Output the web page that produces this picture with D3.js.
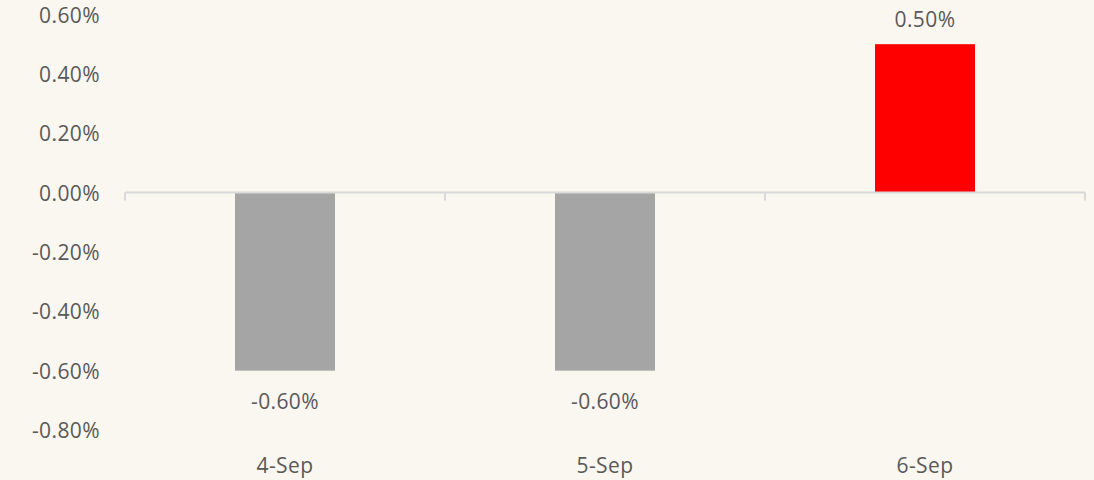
<!DOCTYPE html>
<html><head><meta charset="utf-8">
<script src="https://cdn.jsdelivr.net/npm/d3@7"></script>
<style>
html,body{margin:0;padding:0;background:#faf7f0;}
svg{display:block;}
text{font-family:"Open Sans",sans-serif;fill:#595959;letter-spacing:0.4px;}
</style></head>
<body><svg id="c" width="1094" height="480"></svg>
<script>
const categories = ["4-Sep","5-Sep","6-Sep"];
const values = [-0.006,-0.006,0.005];
const barColors = ["#a5a5a5","#a5a5a5","#ff0000"];
const yTicks = [-0.008,-0.006,-0.004,-0.002,0,0.002,0.004,0.006];

const svg = d3.select("#c");
const x = d3.scaleBand().domain(categories).range([125,1085]).paddingInner(0).paddingOuter(0);
const y = d3.scaleLinear().domain([-0.008,0.006]).range([430,14.5]);
const fmt0 = d3.format(".2%");
const fmt = d => fmt0(d).replace("\u2212","-");
const fs = 21;

// y labels
svg.append("g").selectAll("text").data(yTicks).join("text")
  .attr("x",100).attr("y",d=>y(d)).attr("text-anchor","end")
  .attr("dominant-baseline","central").style("font-size",fs+"px")
  .text(d=>fmt(d));

// bars
const bw = 100;
svg.append("g").selectAll("rect").data(values).join("rect")
  .attr("x",(d,i)=>x(categories[i])+x.bandwidth()/2-bw/2)
  .attr("width",bw)
  .attr("y",d=>Math.min(y(d),y(0)))
  .attr("height",d=>Math.abs(y(d)-y(0)))
  .attr("fill",(d,i)=>barColors[i]);

// axis line and ticks
const ax = svg.append("g");
ax.append("line").attr("x1",125).attr("x2",1085).attr("y1",y(0)).attr("y2",y(0))
  .attr("stroke","#d9d9d9").attr("stroke-width",2);
const tickXs = categories.map(c=>x(c)).concat([x(categories[categories.length-1])+x.bandwidth()]);
ax.selectAll("line.t").data(tickXs).join("line").attr("class","t")
  .attr("x1",d=>d).attr("x2",d=>d).attr("y1",y(0)).attr("y2",y(0)+8)
  .attr("stroke","#d9d9d9").attr("stroke-width",2);

// value labels
svg.append("g").selectAll("text").data(values).join("text")
  .attr("x",(d,i)=>x(categories[i])+x.bandwidth()/2)
  .attr("y",d=>d<0? y(d)+30 : y(d)-25)
  .attr("text-anchor","middle").attr("dominant-baseline","central")
  .style("font-size",fs+"px").text(d=>fmt(d));

// category labels
svg.append("g").selectAll("text").data(categories).join("text")
  .attr("x",c=>x(c)+x.bandwidth()/2).attr("y",465)
  .attr("text-anchor","middle").attr("dominant-baseline","central")
  .style("font-size",fs+"px").text(c=>c);
</script></body></html>
